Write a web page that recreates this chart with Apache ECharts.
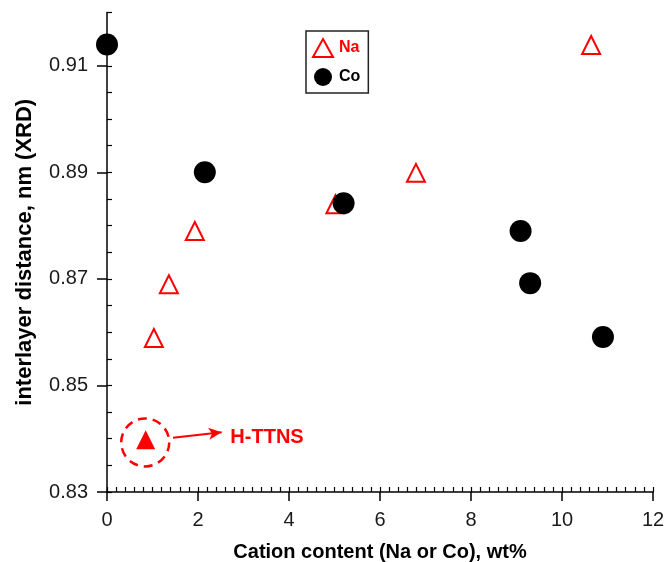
<!DOCTYPE html>
<html>
<head>
<meta charset="utf-8">
<script src="https://cdn.jsdelivr.net/npm/echarts@6/dist/echarts.min.js"></script>
<style>
  html, body { margin: 0; padding: 0; background: #fff; }
  #chart { width: 668px; height: 562px; }
</style>
</head>
<body>
<div id="chart"></div>
<script>
// ---- data ----
const naPoints = [[1.03, 0.8589], [1.36, 0.8690], [1.93, 0.8790], [5.02, 0.8840], [6.79, 0.8899], [10.64, 0.9139]];
const coPoints = [[0.0, 0.9140], [2.15, 0.8900], [5.20, 0.8842], [9.09, 0.8790], [9.30, 0.8692], [10.90, 0.8591]];
const httnsPoint = [[0.85, 0.8398]];
const httnsLabel = 'H-TTNS';
const yTickLabels = [0.83, 0.85, 0.87, 0.89, 0.91];
const xTickLabels = [0, 2, 4, 6, 8, 10, 12];

const FONT = '"Liberation Sans", Arial, sans-serif';
const RED = '#ff0000';

const chart = echarts.init(document.getElementById('chart'), null, { renderer: 'canvas' });

const option = {
  animation: false,
  backgroundColor: '#fff',
  grid: { left: 107, right: 15, top: 12.5, bottom: 70, containLabel: false, outerBoundsMode: 'none' },
  legend: {
    orient: 'vertical',
    left: 306,
    top: 31,
    padding: [7, 8, 7, 6],
    itemGap: 10,
    itemWidth: 20,
    itemHeight: 18,
    borderColor: '#222',
    borderWidth: 1.5,
    backgroundColor: '#fff',
    textStyle: { fontFamily: FONT, fontWeight: 'bold', fontSize: 16, padding: [0, 0, 0, 1] },
    data: [
      { name: 'Na', icon: 'triangle', itemStyle: { color: '#fff', borderColor: RED, borderWidth: 2, opacity: 1 }, textStyle: { color: RED } },
      { name: 'Co', icon: 'circle', itemStyle: { color: '#000', opacity: 1 }, textStyle: { color: '#000' } }
    ]
  },
  xAxis: [
    {
      type: 'value', min: 0, max: 12, interval: 2,
      axisLine: { show: true, lineStyle: { color: '#000', width: 1.5 } },
      axisTick: { show: true, inside: false, length: 9, lineStyle: { color: '#000', width: 1.5 } },
      axisLabel: {
        show: true, margin: 18, color: '#1a1a1a', fontFamily: FONT, fontSize: 20,
        customValues: xTickLabels
      },
      splitLine: { show: false },
      name: 'Cation content (Na or Co), wt%',
      nameLocation: 'middle', nameGap: 50,
      nameTextStyle: { fontFamily: FONT, fontWeight: 'bold', fontSize: 20, color: '#000' }
    },
    {
      type: 'value', min: 0, max: 12, interval: 0.2, position: 'bottom',
      axisLine: { show: false },
      axisTick: { show: true, inside: true, length: 5, lineStyle: { color: '#000', width: 1.2 } },
      axisLabel: { show: false },
      splitLine: { show: false }
    }
  ],
  yAxis: [
    {
      type: 'value', min: 0.83, max: 0.92, interval: 0.01,
      axisLine: { show: true, lineStyle: { color: '#000', width: 1.5 } },
      axisTick: { show: true, inside: false, length: 10, customValues: yTickLabels, lineStyle: { color: '#000', width: 1.5 } },
      axisLabel: {
        show: true, margin: 19, color: '#1a1a1a', fontFamily: FONT, fontSize: 20,
        customValues: yTickLabels,
        formatter: v => Number(v).toFixed(2)
      },
      splitLine: { show: false },
      name: 'interlayer distance, nm (XRD)',
      nameLocation: 'middle', nameGap: 71,
      nameTextStyle: { fontFamily: FONT, fontWeight: 'bold', fontSize: 22, color: '#000' }
    },
    {
      type: 'value', min: 0.83, max: 0.92, interval: 0.005, position: 'left',
      axisLine: { show: false },
      axisTick: { show: true, inside: true, length: 5, lineStyle: { color: '#000', width: 1.2 } },
      axisLabel: { show: false },
      splitLine: { show: false }
    }
  ],
  series: [
    {
      name: 'H-TTNS circle',
      type: 'scatter',
      data: [[0.84, 0.8393]],
      symbol: 'circle',
      symbolSize: 48,
      silent: true,
      itemStyle: { color: 'rgba(0,0,0,0)', borderColor: RED, borderWidth: 2.5, borderType: [9, 6], opacity: 1 },
      z: 2
    },
    {
      name: 'H-TTNS',
      type: 'scatter',
      data: httnsPoint,
      symbol: 'triangle',
      symbolSize: 19,
      itemStyle: { color: RED, opacity: 1 },
      z: 3,
      markLine: {
        silent: true,
        symbol: ['none', 'arrow'],
        symbolSize: [9, 13],
        lineStyle: { color: RED, width: 2, type: 'solid', opacity: 1 },
        label: { show: false },
        data: [[{ coord: [1.45, 0.8402] }, { coord: [2.52, 0.8412] }]]
      },
      markPoint: {
        silent: true,
        symbol: 'rect',
        symbolSize: 1,
        itemStyle: { color: 'rgba(0,0,0,0)' },
        label: {
          show: true, position: 'right', distance: 0,
          formatter: httnsLabel,
          color: RED, fontFamily: FONT, fontWeight: 'bold', fontSize: 20
        },
        data: [{ coord: [2.70, 0.8402] }]
      }
    },
    {
      name: 'Na',
      type: 'scatter',
      data: naPoints,
      symbol: 'triangle',
      symbolSize: 18,
      itemStyle: { color: '#fff', borderColor: RED, borderWidth: 2, opacity: 1 },
      z: 4
    },
    {
      name: 'Co',
      type: 'scatter',
      data: coPoints,
      symbol: 'circle',
      symbolSize: 22,
      itemStyle: { color: '#000', opacity: 1 },
      z: 5
    }
  ]
};

chart.setOption(option);
</script>
</body>
</html>
